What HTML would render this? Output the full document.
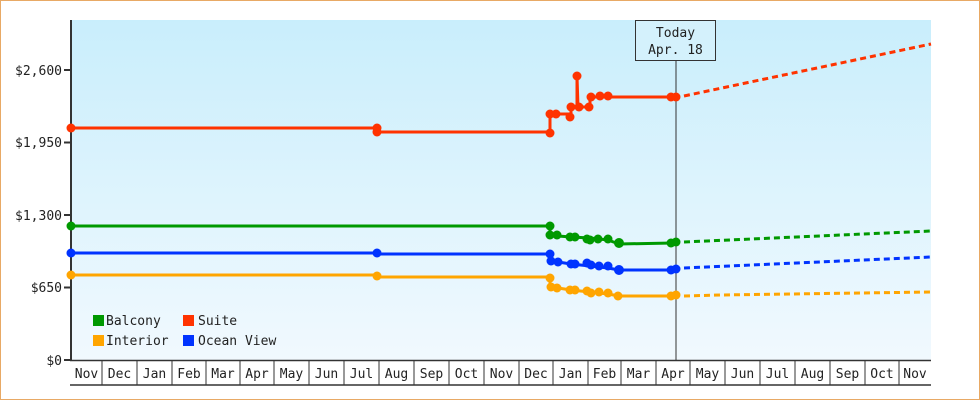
<!DOCTYPE html>
<html><head><meta charset="utf-8"><style>
html,body{margin:0;padding:0;background:#fff}
svg{display:block}
text{font-family:"DejaVu Sans Mono","Liberation Mono",monospace;font-size:13px;fill:#222}
</style></head><body>
<svg width="980" height="400" viewBox="0 0 980 400">
<defs><linearGradient id="bg" x1="0" y1="0" x2="0" y2="1"><stop offset="0" stop-color="#c9eefc"/><stop offset="1" stop-color="#f1f9fe"/></linearGradient></defs>
<rect x="0.5" y="0.5" width="979" height="399" fill="#fff" stroke="#e8a965"/>
<rect x="71" y="20" width="860" height="340" fill="url(#bg)"/>
<line x1="71" y1="20" x2="71" y2="361" stroke="#333" stroke-width="2"/>
<g stroke="#333" stroke-width="2">
<line x1="64" y1="70" x2="71" y2="70"/><line x1="64" y1="142.5" x2="71" y2="142.5"/><line x1="64" y1="215" x2="71" y2="215"/><line x1="64" y1="287.5" x2="71" y2="287.5"/><line x1="64" y1="360" x2="71" y2="360"/></g>
<g text-anchor="end"><text x="62" y="75">$2,600</text><text x="62" y="147">$1,950</text><text x="62" y="220">$1,300</text><text x="62" y="292">$650</text><text x="62" y="365">$0</text></g>
<line x1="70" y1="385" x2="931" y2="385" stroke="#333" stroke-width="1.5"/>
<line x1="70" y1="360.5" x2="931" y2="360.5" stroke="#333" stroke-width="1.5"/>
<g stroke="#333" stroke-width="1">
<line x1="102" y1="360" x2="102" y2="385"/><line x1="137" y1="360" x2="137" y2="385"/><line x1="172" y1="360" x2="172" y2="385"/><line x1="206" y1="360" x2="206" y2="385"/><line x1="240" y1="360" x2="240" y2="385"/><line x1="274" y1="360" x2="274" y2="385"/><line x1="309" y1="360" x2="309" y2="385"/><line x1="344" y1="360" x2="344" y2="385"/><line x1="379" y1="360" x2="379" y2="385"/><line x1="414" y1="360" x2="414" y2="385"/><line x1="449" y1="360" x2="449" y2="385"/><line x1="484" y1="360" x2="484" y2="385"/><line x1="519" y1="360" x2="519" y2="385"/><line x1="553" y1="360" x2="553" y2="385"/><line x1="588" y1="360" x2="588" y2="385"/><line x1="621" y1="360" x2="621" y2="385"/><line x1="656" y1="360" x2="656" y2="385"/><line x1="690" y1="360" x2="690" y2="385"/><line x1="725" y1="360" x2="725" y2="385"/><line x1="760" y1="360" x2="760" y2="385"/><line x1="795" y1="360" x2="795" y2="385"/><line x1="830" y1="360" x2="830" y2="385"/><line x1="865" y1="360" x2="865" y2="385"/><line x1="899" y1="360" x2="899" y2="385"/></g>
<g text-anchor="middle">
<text x="86.5" y="378">Nov</text><text x="119.5" y="378">Dec</text><text x="154.5" y="378">Jan</text><text x="189" y="378">Feb</text><text x="223" y="378">Mar</text><text x="257" y="378">Apr</text><text x="291.5" y="378">May</text><text x="326.5" y="378">Jun</text><text x="361.5" y="378">Jul</text><text x="396.5" y="378">Aug</text><text x="431.5" y="378">Sep</text><text x="466.5" y="378">Oct</text><text x="501.5" y="378">Nov</text><text x="536" y="378">Dec</text><text x="570.5" y="378">Jan</text><text x="604.5" y="378">Feb</text><text x="638.5" y="378">Mar</text><text x="673" y="378">Apr</text><text x="707.5" y="378">May</text><text x="742.5" y="378">Jun</text><text x="777.5" y="378">Jul</text><text x="812.5" y="378">Aug</text><text x="847.5" y="378">Sep</text><text x="882" y="378">Oct</text><text x="915" y="378">Nov</text></g>
<line x1="676" y1="60" x2="676" y2="360" stroke="#333" stroke-width="1"/>
<rect x="635.5" y="20.5" width="80" height="40" fill="#d4f1fc" stroke="#333"/>
<text x="675.5" y="37" text-anchor="middle">Today</text><text x="675.5" y="54" text-anchor="middle">Apr. 18</text>
<g fill="none" stroke-width="3" stroke-linejoin="round">
<polyline stroke="#ff3300" points="71,128 377,128 377,132 550,132 550,114 571,114 571,107 577,107 577,76 578,107 590,107 590,97 673,97"/>
<polyline stroke="#009900" points="71,226 550,226 550,235 558,236 571,237 590,238 608,240 619,244 673,243"/>
<polyline stroke="#0033ff" points="71,253 377,253 377,254 550,254 550,260 558,262 571,264 590,266 608,268 619,270 673,270"/>
<polyline stroke="#ffa500" points="71,275 377,275 377,277 550,277 550,287 558,288 571,290 590,292 608,294 619,296 673,296"/>
</g>
<g fill="none" stroke-width="3" stroke-dasharray="6,4">
<line stroke="#ff3300" x1="684" y1="96" x2="931" y2="44"/>
<line stroke="#009900" x1="684" y1="242" x2="931" y2="231"/>
<line stroke="#0033ff" x1="684" y1="268" x2="931" y2="257"/>
<polyline stroke="#ffa500" points="684,296 720,295 931,292"/>
</g>
<g>
<g fill="#ff3300"><circle cx="71" cy="128" r="4.5"/><circle cx="377" cy="128" r="4.5"/><circle cx="377" cy="132" r="4.5"/><circle cx="550" cy="133" r="4.5"/><circle cx="550" cy="114" r="4.5"/><circle cx="556" cy="114" r="4.5"/><circle cx="570" cy="117" r="4.5"/><circle cx="571" cy="107" r="4.5"/><circle cx="577" cy="76" r="4.5"/><circle cx="579" cy="107" r="4.5"/><circle cx="589" cy="107" r="4.5"/><circle cx="591" cy="97" r="4.5"/><circle cx="600" cy="96" r="4.5"/><circle cx="608" cy="96" r="4.5"/><circle cx="671" cy="97" r="4.5"/><circle cx="676" cy="97" r="4.5"/></g>
<g fill="#009900"><circle cx="71" cy="226" r="4.5"/><circle cx="550" cy="226" r="4.5"/><circle cx="550" cy="235" r="4.5"/><circle cx="557" cy="235" r="4.5"/><circle cx="570" cy="237" r="4.5"/><circle cx="575" cy="237" r="4.5"/><circle cx="587" cy="239" r="4.5"/><circle cx="590" cy="240" r="4.5"/><circle cx="598" cy="239" r="4.5"/><circle cx="608" cy="239" r="4.5"/><circle cx="619" cy="243" r="5"/><circle cx="671" cy="243" r="4.5"/><circle cx="676" cy="242" r="4.5"/></g>
<g fill="#0033ff"><circle cx="71" cy="253" r="4.5"/><circle cx="377" cy="253" r="4.5"/><circle cx="550" cy="254" r="4.5"/><circle cx="551" cy="261" r="4.5"/><circle cx="558" cy="262" r="4.5"/><circle cx="571" cy="264" r="4.5"/><circle cx="575" cy="264" r="4.5"/><circle cx="587" cy="263" r="4.5"/><circle cx="591" cy="265" r="4.5"/><circle cx="599" cy="266" r="4.5"/><circle cx="608" cy="266" r="4.5"/><circle cx="619" cy="270" r="5"/><circle cx="671" cy="270" r="4.5"/><circle cx="676" cy="269" r="4.5"/></g>
<g fill="#ffa500"><circle cx="71" cy="275" r="4.5"/><circle cx="377" cy="276" r="4.5"/><circle cx="550" cy="278" r="4.5"/><circle cx="551" cy="287" r="4.5"/><circle cx="557" cy="288" r="4.5"/><circle cx="570" cy="290" r="4.5"/><circle cx="575" cy="290" r="4.5"/><circle cx="587" cy="291" r="4.5"/><circle cx="591" cy="293" r="4.5"/><circle cx="599" cy="292" r="4.5"/><circle cx="608" cy="293" r="4.5"/><circle cx="618" cy="296" r="4.5"/><circle cx="671" cy="296" r="4.5"/><circle cx="676" cy="295" r="4.5"/></g>
</g>
<rect x="93" y="315" width="11" height="11" fill="#009900"/><text x="106" y="325">Balcony</text>
<rect x="183" y="315" width="11" height="11" fill="#ff3300"/><text x="198" y="325">Suite</text>
<rect x="93" y="335" width="11" height="11" fill="#ffa500"/><text x="106" y="345">Interior</text>
<rect x="183" y="335" width="11" height="11" fill="#0033ff"/><text x="198" y="345">Ocean View</text>
</svg>
</body></html>
